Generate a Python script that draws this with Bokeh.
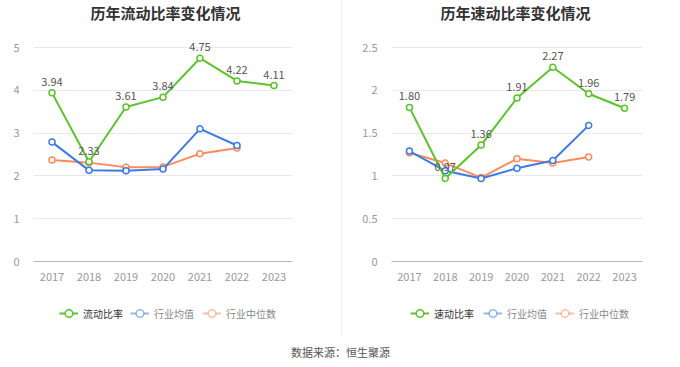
from bokeh.plotting import figure
from bokeh.models import (ColumnDataSource, FactorRange, Range1d, Label, Legend, LegendItem,
                          FixedTicker, CustomJSTickFormatter)
from bokeh.layouts import row, column
from bokeh.core.properties import value
from bokeh.embed import file_html
from bokeh.resources import INLINE

years = ["2017", "2018", "2019", "2020", "2021", "2022", "2023"]
years_ind = ["2017", "2018", "2019", "2020", "2021", "2022"]

current_ratio = [3.94, 2.33, 3.61, 3.84, 4.75, 4.22, 4.11]
current_ind_mean = [2.79, 2.13, 2.12, 2.16, 3.10, 2.71]
current_ind_median = [2.37, 2.31, 2.20, 2.21, 2.52, 2.65]

quick_ratio = [1.80, 0.97, 1.36, 1.91, 2.27, 1.96, 1.79]
quick_ind_mean = [1.29, 1.06, 0.97, 1.09, 1.18, 1.59]
quick_ind_median = [1.27, 1.15, 0.98, 1.20, 1.15, 1.22]

FONT = "Noto Sans CJK SC"
GREEN = "#5ac42a"
BLUE = "#3b7be8"
ORANGE = "#ff8a5c"
DIVIDER = {"border-left": "1px solid #f0f0f0"}

W_LEFT, W_RIGHT = 341, 339
H_TITLE, H_CHART, H_LEG, H_SRC = 36, 254, 46, 28


def blank(width, height):
    f = figure(width=width, height=height, output_backend="svg", toolbar_location=None,
               x_range=Range1d(0, 1), y_range=Range1d(0, 1), min_border=0)
    f.axis.visible = False
    f.grid.visible = False
    f.outline_line_color = None
    return f


def title_fig(width, text, cx):
    f = blank(width, H_TITLE)
    f.add_layout(Label(x=cx, y=H_TITLE - 12, x_units="screen", y_units="screen",
                       text=text, text_align="center", text_baseline="middle",
                       text_font=FONT, text_font_size="15px", text_font_style="bold",
                       text_color="#333333"))
    return f


def chart(main_vals, mean_vals, median_vals, ymax, ystep, width, left, right):
    frame_h = H_CHART - 29
    top_val = ymax * frame_h / 214.0
    p = figure(width=width, height=H_CHART, x_range=FactorRange(*years, range_padding=0),
               y_range=Range1d(0, top_val), output_backend="svg", toolbar_location=None,
               min_border_left=left, min_border_right=right, min_border_top=0,
               min_border_bottom=29)
    p.outline_line_color = None
    p.xgrid.grid_line_color = None
    p.ygrid.grid_line_color = "#e6e9f0"
    p.ygrid.grid_line_width = 1

    n = int(round(ymax / ystep))
    ticks = [round(i * ystep, 2) for i in range(n + 1)]
    p.yaxis.ticker = FixedTicker(ticks=ticks)
    p.ygrid.ticker = FixedTicker(ticks=ticks)
    p.yaxis.formatter = CustomJSTickFormatter(code="return String(Math.round(tick*100)/100);")
    p.yaxis.axis_line_color = None
    p.yaxis.major_tick_line_color = None
    p.yaxis.minor_tick_line_color = None
    p.yaxis.major_label_text_color = "#999999"
    p.yaxis.major_label_text_font = FONT
    p.yaxis.major_label_text_font_size = "11px"
    p.yaxis.major_label_standoff = 8

    p.xaxis.axis_line_color = "#b8b8b8"
    p.xaxis.axis_line_width = 1
    p.xaxis.major_tick_line_color = None
    p.xaxis.minor_tick_line_color = None
    p.xaxis.major_label_text_color = "#999999"
    p.xaxis.major_label_text_font = FONT
    p.xaxis.major_label_text_font_size = "11px"
    p.xaxis.major_label_standoff = 5

    src_main = ColumnDataSource(dict(x=years, y=main_vals,
                                     lab=["%.2f" % v for v in main_vals]))
    src_mean = ColumnDataSource(dict(x=years_ind, y=mean_vals))
    src_med = ColumnDataSource(dict(x=years_ind, y=median_vals))

    p.line("x", "y", source=src_med, line_color=ORANGE, line_width=2)
    p.scatter("x", "y", source=src_med, size=6, marker="circle", fill_color="white",
              line_color=ORANGE, line_width=1.5)
    p.line("x", "y", source=src_mean, line_color=BLUE, line_width=2)
    p.scatter("x", "y", source=src_mean, size=6, marker="circle", fill_color="white",
              line_color=BLUE, line_width=1.5)
    p.line("x", "y", source=src_main, line_color=GREEN, line_width=2)
    p.scatter("x", "y", source=src_main, size=6, marker="circle", fill_color="white",
              line_color=GREEN, line_width=1.5)
    p.text("x", "y", text="lab", source=src_main, y_offset=-7, text_align="center",
           text_baseline="bottom", text_font=value(FONT), text_font_size="11px",
           text_color="#555555")
    return p


def legend_fig(width, main_name, x1, x2):
    f = blank(width, H_LEG)

    def proxy(color, alpha):
        s = ColumnDataSource(dict(x=[5.0, 6.0], y=[5.0, 6.0]))
        l = f.line("x", "y", source=s, line_color=color, line_width=2, line_alpha=alpha)
        m = f.scatter("x", "y", source=s, marker="circle", size=8, fill_color="white",
                      line_color=color, line_width=1.5, line_alpha=alpha)
        return [l, m]

    g = proxy(GREEN, 1.0)
    b = proxy(BLUE, 0.55)
    o = proxy(ORANGE, 0.55)
    common = dict(orientation="horizontal", glyph_width=19, glyph_height=20,
                  label_height=20, label_standoff=5, spacing=8, padding=0, margin=0,
                  border_line_color=None, background_fill_alpha=0,
                  label_text_font=FONT, label_text_font_size="10px")
    vy = 13
    f.add_layout(Legend(items=[LegendItem(label=main_name, renderers=g)],
                        location=(x1, vy), label_text_color="#333333", **common))
    f.add_layout(Legend(items=[LegendItem(label="行业均值", renderers=b),
                               LegendItem(label="行业中位数", renderers=o)],
                        location=(x2, vy), label_text_color="#888888", **common))
    return f


t1 = title_fig(W_LEFT, "历年流动比率变化情况", 165)
t2 = title_fig(W_RIGHT, "历年速动比率变化情况", 173)
t2.styles = DIVIDER

c1 = chart(current_ratio, current_ind_mean, current_ind_median, 5, 1, W_LEFT, 33, 49)
c2 = chart(quick_ratio, quick_ind_mean, quick_ind_median, 2.5, 0.5, W_RIGHT, 49, 39)
c2.styles = DIVIDER

l1 = legend_fig(W_LEFT, "流动比率", 59, 130)
l2 = legend_fig(W_RIGHT, "速动比率", 68, 141)
l2.styles = DIVIDER

src = blank(680, H_SRC)
src.add_layout(Label(x=340, y=H_SRC - 15, x_units="screen", y_units="screen",
                     text="数据来源：恒生聚源", text_align="center", text_baseline="middle",
                     text_font=FONT, text_font_size="11px", text_color="#555555"))

layout = column(row(t1, t2), row(c1, c2), row(l1, l2), src)
open("out.html", "w").write(file_html(layout, INLINE))
